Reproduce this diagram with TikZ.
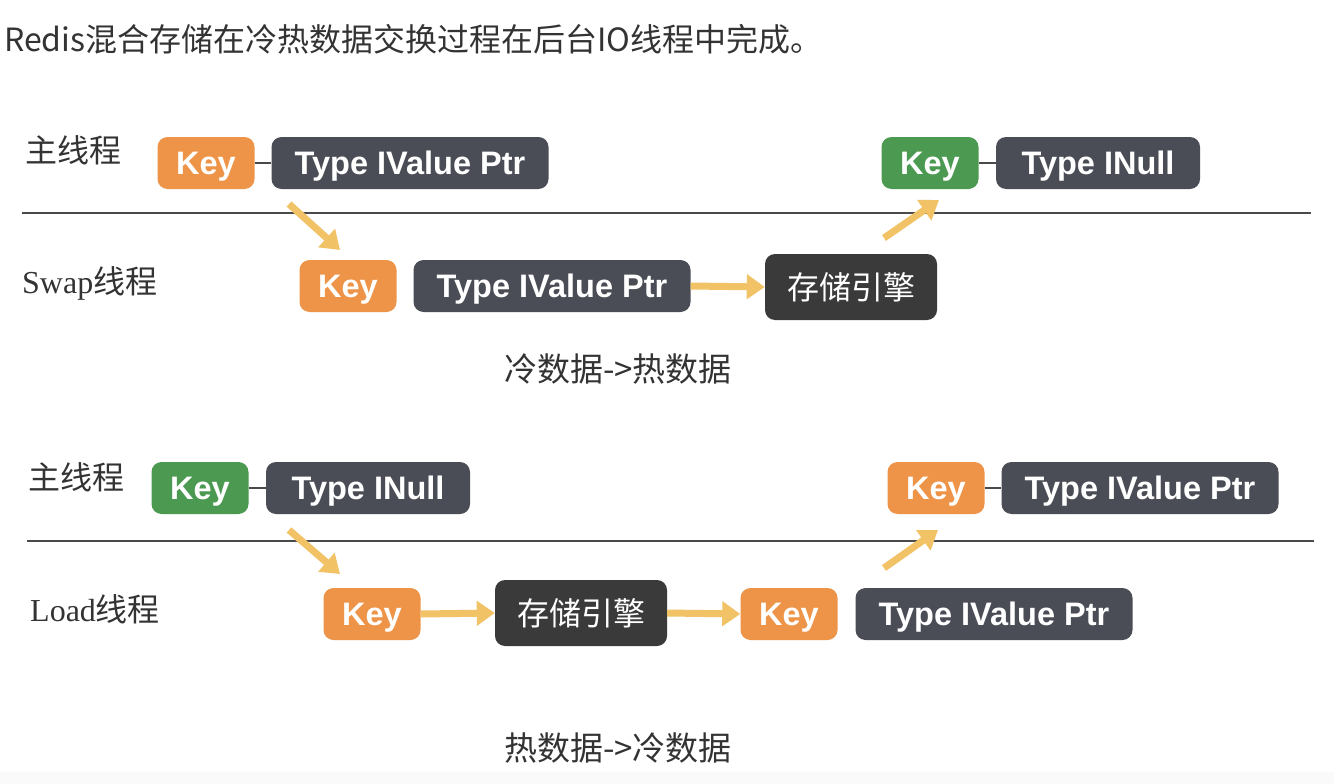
\documentclass[tikz,border=0pt]{standalone}
\usepackage{fontspec}
\setmainfont{Liberation Sans}
\newfontfamily\cjk{Noto Sans CJK SC}
\newfontfamily\serifl{Liberation Serif}
\usetikzlibrary{arrows.meta}
\definecolor{keyorange}{HTML}{EE9448}
\definecolor{keygreen}{HTML}{4C9A52}
\definecolor{typebox}{HTML}{4A4D55}
\definecolor{enginebox}{HTML}{3A3A3A}
\definecolor{arrowyellow}{HTML}{F2C266}
\definecolor{textgray}{HTML}{333333}
\definecolor{linegray}{HTML}{4A4A4A}
\begin{document}
\begin{tikzpicture}[x=1pt,y=-1pt,
  box/.style={rounded corners=10pt, inner sep=0pt, text=white,
    text height=23.3pt, text depth=0pt,
    font=\fontsize{32.5}{32.5}\selectfont\bfseries},
  keyo/.style={box, fill=keyorange, minimum width=97pt, minimum height=52pt},
  keyg/.style={box, fill=keygreen, minimum width=97pt, minimum height=52pt},
  typeval/.style={box, fill=typebox, minimum width=277pt, minimum height=52pt},
  typenull/.style={box, fill=typebox, minimum width=204pt, minimum height=52pt},
  engine/.style={rounded corners=10pt, inner sep=0pt, text=white, fill=enginebox,
    minimum width=172pt, minimum height=66pt, font=\cjk\fontsize{32}{32}\selectfont},
  link/.style={draw=linegray, line width=2.5pt},
  flow/.style={draw=arrowyellow, line width=7pt,
    -{Triangle[length=18pt,width=24pt]}},
  label/.style={text=textgray, font=\cjk\fontsize{32}{32}\selectfont, anchor=west, inner sep=0pt},
  caption/.style={text=textgray, font=\cjk\fontsize{33}{33}\selectfont, inner sep=0pt},
  divider/.style={draw=linegray, line width=2.2pt}
]
\useasboundingbox (0,0) rectangle (1334,784);
\fill[white] (0,0) rectangle (1334,784);
\fill[gray!4] (0,772) rectangle (1334,784);

% title
\node[anchor=west, inner sep=0pt, text=textgray, font=\cjk\fontsize{32}{32}\selectfont] (title) at (4,39) {Redis混合存储在冷热数据交换过程在后台IO线程中完成。};

% ===== top section =====
\node[label] (m1) at (25,150) {主线程};
\node[label] (s1) at (22,283) {{\serifl Swap}线程};
\coordinate (d1a) at (22,213);
\coordinate (d1b) at (1311,213);
\draw[divider] (d1a) -- (d1b);

\node[keyo] (k1) at (206,163) {Key};
\node[typeval] (t1) at (410,163) {Type IValue Ptr};
\draw[link] (k1) -- (t1);

\node[keyg] (k2) at (930,163) {Key};
\node[typenull] (t2) at (1098,163) {Type INull};
\draw[link] (k2) -- (t2);

\node[keyo] (k3) at (348,286) {Key};
\node[typeval] (t3) at (552,286) {Type IValue Ptr};
\node[engine] (e1) at (851,287) {存储引擎};

\coordinate (a1s) at (289,204);
\coordinate (a1e) at (340,250);
\draw[flow] (a1s) -- (a1e);
\draw[flow] (t3.east) -- (e1.west);
\coordinate (a2s) at (884,238);
\coordinate (a2e) at (939,200);
\draw[flow] (a2s) -- (a2e);

\node[caption] (c1) at (618,369) {冷数据->热数据};

% ===== bottom section =====
\node[label] (m2) at (28,477) {主线程};
\node[label] (l2) at (30,609) {{\serifl Load}线程};
\coordinate (d2a) at (27,541);
\coordinate (d2b) at (1314,541);
\draw[divider] (d2a) -- (d2b);

\node[keyg] (k4) at (200,488) {Key};
\node[typenull] (t4) at (368,488) {Type INull};
\draw[link] (k4) -- (t4);

\node[keyo] (k5) at (936,488) {Key};
\node[typeval] (t5) at (1140,488) {Type IValue Ptr};
\draw[link] (k5) -- (t5);

\node[keyo] (k6) at (372,614) {Key};
\node[engine] (e2) at (581,613) {存储引擎};
\node[keyo] (k7) at (789,614) {Key};
\node[typeval] (t7) at (994,614) {Type IValue Ptr};

\coordinate (a3s) at (289,530);
\coordinate (a3e) at (340,574);
\draw[flow] (a3s) -- (a3e);
\draw[flow] (k6.east) -- (e2.west);
\draw[flow] (e2.east) -- (k7.west);
\coordinate (a4s) at (884,568);
\coordinate (a4e) at (938,530);
\draw[flow] (a4s) -- (a4e);

\node[caption] (c2) at (618,748) {热数据->冷数据};
\end{tikzpicture}
\end{document}
